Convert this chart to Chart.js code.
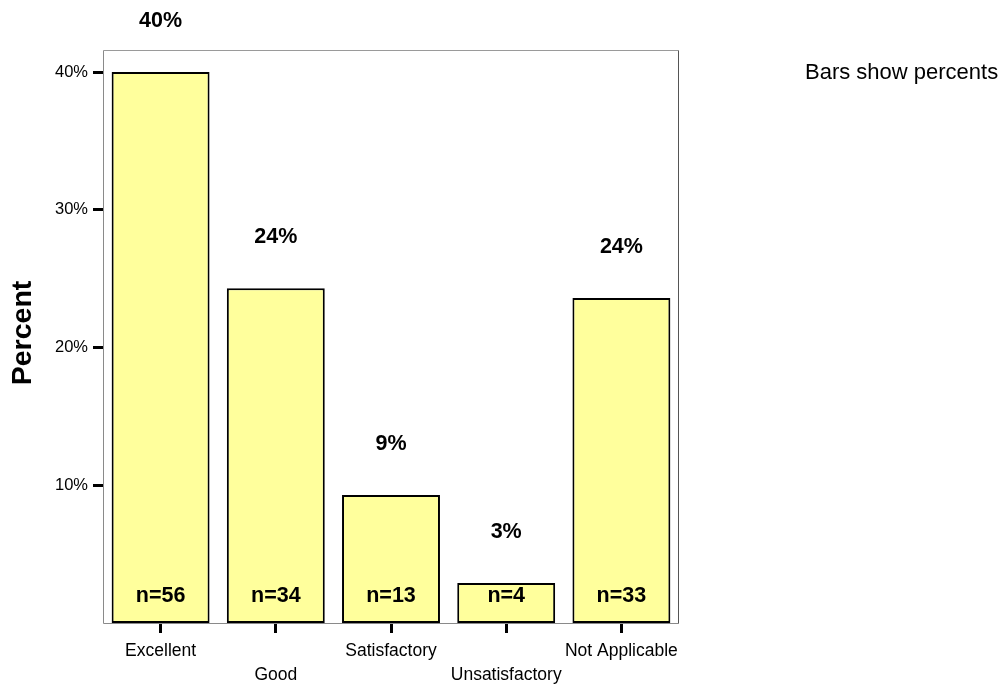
<!DOCTYPE html>
<html>
<head>
<meta charset="utf-8">
<script src="https://cdn.jsdelivr.net/npm/chart.js@4"></script>
<style>
  html, body { margin: 0; padding: 0; background: #fff; }
  #wrap { width: 1000px; height: 687px; }
</style>
</head>
<body>
<div id="wrap"><canvas id="chart" width="1000" height="687"></canvas></div>
<script>
// ratings and their share of answers
const categories = ['Excellent', 'Good', 'Satisfactory', 'Unsatisfactory', 'Not Applicable'];
const percents = [40.0, 24.3, 9.3, 2.9, 23.6];
const counts = [56, 34, 13, 4, 33];
const yTicks = [10, 20, 30, 40];

const FONT = '"Liberation Sans", Arial, sans-serif';

// stagger the odd category labels onto a second line
const xLabels = categories.map((c, i) => i % 2 ? ['', c] : [c]);

function line(ctx, color, x1, y1, x2, y2) {
  ctx.strokeStyle = color;
  ctx.beginPath();
  ctx.moveTo(x1, y1);
  ctx.lineTo(x2, y2);
  ctx.stroke();
}

const extras = {
  id: 'extras',
  beforeDatasetsDraw(chart) {
    let { ctx, chartArea: a } = chart;
    let l = a.left + 0.5, r = a.right - 0.5, t = a.top + 0.5, b = a.bottom + 0.5;
    ctx.save();
    ctx.lineWidth = 1;
    line(ctx, '#9a9a9a', l, t, r, t);
    line(ctx, '#8a8a8a', l, t, l, b);
    line(ctx, '#8a8a8a', l, b, r, b);
    line(ctx, '#555', r, t, r, b);
    ctx.restore();
  },
  afterDatasetsDraw(chart) {
    let { ctx } = chart;
    let meta = chart.getDatasetMeta(0);
    ctx.save();
    ctx.fillStyle = '#000';
    ctx.textAlign = 'center';
    ctx.textBaseline = 'middle';
    ctx.font = 'bold 21.5px ' + FONT;
    meta.data.forEach((bar, i) => {
      ctx.fillText(Math.round(percents[i]) + '%', bar.x, bar.y - 51);
      ctx.fillText('n=' + counts[i], bar.x, 596);
    });

    // axis title
    ctx.font = 'bold 28.5px ' + FONT;
    ctx.translate(23, 333);
    ctx.rotate(-Math.PI / 2);
    ctx.fillText('Percent', 0, 0);
    ctx.restore();

    ctx.save();
    ctx.fillStyle = '#000';
    ctx.font = '22px ' + FONT;
    ctx.textAlign = 'left';
    ctx.textBaseline = 'middle';
    ctx.fillText('Bars show percents', 805, 73);
    ctx.restore();
  }
};

new Chart(document.getElementById('chart'), {
  type: 'bar',
  data: {
    labels: xLabels,
    datasets: [{
      data: percents,
      backgroundColor: '#ffff9c',
      borderColor: '#000',
      borderWidth: 2,
      borderSkipped: false,
      categoryPercentage: 1,
      barPercentage: 0.85
    }]
  },
  options: {
    responsive: false,
    animation: false,
    events: [],
    layout: { padding: { top: 50, right: 321, left: 0, bottom: 0 } },
    plugins: { legend: { display: false }, tooltip: { enabled: false } },
    scales: {
      x: {
        grid: {
          offset: false, drawOnChartArea: false, drawTicks: true,
          tickLength: 10, tickWidth: 3, tickColor: '#000'
        },
        border: { display: false },
        ticks: {
          color: '#000', autoSkip: false, maxRotation: 0, padding: 6,
          font: { family: FONT, size: 17.5, lineHeight: 1.37 }
        },
        afterFit: s => { s.height = 64; }
      },
      y: {
        min: 0, max: 41.6,
        afterBuildTicks: s => { s.ticks = yTicks.map(v => ({ value: v })); },
        grid: {
          drawOnChartArea: false, drawTicks: true,
          tickLength: 10, tickWidth: 3, tickColor: '#000'
        },
        border: { display: false },
        ticks: {
          color: '#000', padding: 5,
          font: { family: FONT, size: 16.5 },
          callback: v => v + '%'
        },
        afterFit: s => { s.width = 103; }
      }
    }
  },
  plugins: [extras]
});
</script>
</body>
</html>
